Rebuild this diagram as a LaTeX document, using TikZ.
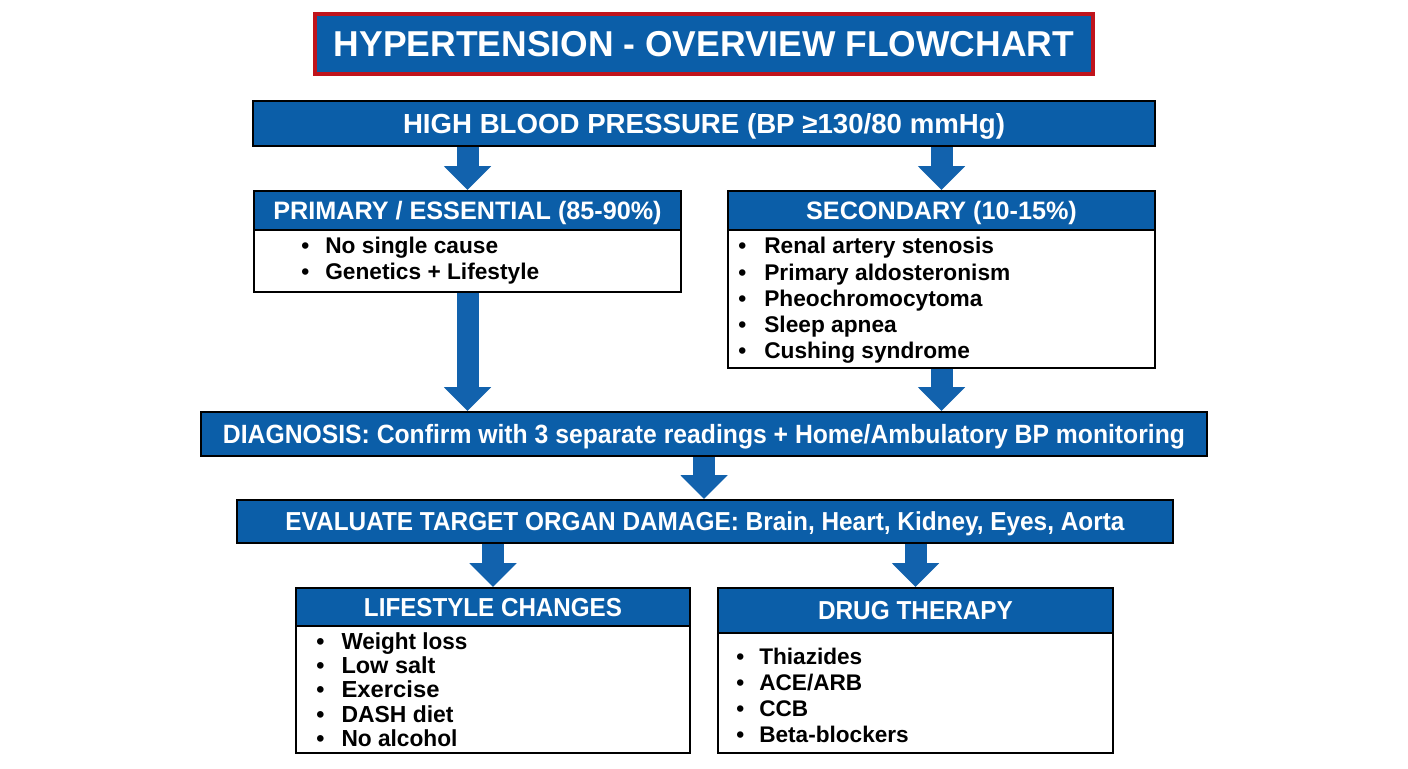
\documentclass[tikz,border=0pt]{standalone}
\usepackage{fontspec}
\setmainfont{Liberation Sans}
\usetikzlibrary{arrows.meta}
\definecolor{bpblue}{HTML}{0B5EA8}
\definecolor{arrblue}{HTML}{1262AD}
\definecolor{bpred}{HTML}{C0141C}
\newcommand{\fitw}[2]{\resizebox{#1}{\height}{#2}}
\tikzset{
  hdr/.style={draw=black, line width=1pt, fill=bpblue, text=white, inner sep=0pt, align=center},
  capc/.style={text depth=0pt, text height=#1},
  bodybox/.style={draw=black, line width=1pt, fill=white, inner sep=0pt},
  listtxt/.style={anchor=west, inner sep=0pt, align=left, text=black},
  barrow/.style={draw=arrblue, line width=11pt, -{Triangle[width=23pt,length=12pt]}},
}
\begin{document}
\begin{tikzpicture}[x=0.5pt,y=-0.5pt]
\useasboundingbox (0,0) rectangle (1408,768);
\fill[white] (0,0) rectangle (1408,768);
% title
\node[draw=bpred, line width=1.6pt, fill=bpblue, text=white, inner sep=0pt, capc=12.9pt,
  minimum width=389pt, minimum height=30pt, font=\fontsize{18}{20}\selectfont\bfseries]
  (title) at (704,44) {\fitw{370pt}{HYPERTENSION - OVERVIEW FLOWCHART}};
% high blood pressure
\node[hdr, capc=9.9pt, minimum width=451pt, minimum height=22.5pt, font=\fontsize{13.8}{16}\selectfont\bfseries]
  (hbp) at (704,123.5) {\fitw{301pt}{HIGH BLOOD PRESSURE (BP ≥130/80 mmHg)}};
% primary
\node[hdr, capc=9pt, minimum width=213.5pt, minimum height=19.5pt, font=\fontsize{12.6}{15}\selectfont\bfseries]
  (primh) at (467.5,210.5) {PRIMARY / ESSENTIAL (85-90\%)};
\node[bodybox, minimum width=213.5pt, minimum height=31pt] (primb) at (467.5,261) {};
\node[listtxt, font=\fontsize{11.35}{13.1}\selectfont\bfseries] (priml) at (301,261)
  {•\hspace{8pt}No single cause\\ •\hspace{8pt}Genetics + Lifestyle};
% secondary
\node[hdr, capc=9pt, minimum width=213.5pt, minimum height=19.5pt, font=\fontsize{12.6}{15}\selectfont\bfseries]
  (sech) at (941.5,210.5) {SECONDARY (10-15\%)};
\node[bodybox, minimum width=213.5pt, minimum height=69pt] (secb) at (941.5,299) {};
\node[listtxt, font=\fontsize{11.35}{13.1}\selectfont\bfseries] (secl) at (738,300.5)
  {•\hspace{9pt}Renal artery stenosis\\ •\hspace{9pt}Primary aldosteronism\\ •\hspace{9pt}Pheochromocytoma\\ •\hspace{9pt}Sleep apnea\\ •\hspace{9pt}Cushing syndrome};
% diagnosis
\node[hdr, capc=9.45pt, minimum width=503pt, minimum height=22pt, font=\fontsize{13.2}{16}\selectfont\bfseries]
  (diag) at (704,434) {\fitw{481pt}{DIAGNOSIS: Confirm with 3 separate readings + Home/Ambulatory BP monitoring}};
% evaluate
\node[hdr, capc=9.3pt, minimum width=468pt, minimum height=21.5pt, font=\fontsize{13}{16}\selectfont\bfseries]
  (eval) at (705,521.5) {\fitw{419.5pt}{EVALUATE TARGET ORGAN DAMAGE: Brain, Heart, Kidney, Eyes, Aorta}};
% lifestyle
\node[hdr, capc=9.3pt, minimum width=197pt, minimum height=19pt, font=\fontsize{13}{16}\selectfont\bfseries]
  (lifeh) at (493,607) {\fitw{129pt}{LIFESTYLE CHANGES}};
\node[bodybox, minimum width=197pt, minimum height=63.5pt] (lifeb) at (493,689.5) {};
\node[listtxt, font=\fontsize{11.6}{12.1}\selectfont\bfseries] (lifel) at (316,689.5)
  {•\hspace{8.5pt}\fitw{63pt}{Weight loss}\\ •\hspace{8.5pt}\fitw{47pt}{Low salt}\\ •\hspace{8.5pt}\fitw{49pt}{Exercise}\\ •\hspace{8.5pt}\fitw{56pt}{DASH diet}\\ •\hspace{8.5pt}\fitw{58pt}{No alcohol}};
% drug
\node[hdr, capc=9.3pt, minimum width=197.5pt, minimum height=22.5pt, font=\fontsize{13}{16}\selectfont\bfseries]
  (drugh) at (915.5,610.5) {\fitw{97.5pt}{DRUG THERAPY}};
\node[bodybox, minimum width=197.5pt, minimum height=60pt] (drugb) at (915.5,693) {};
\node[listtxt, font=\fontsize{11.3}{13}\selectfont\bfseries] (drugl) at (736,695)
  {•\hspace{7.5pt}Thiazides\\ •\hspace{7.5pt}ACE/ARB\\ •\hspace{7.5pt}CCB\\ •\hspace{7.5pt}Beta-blockers};
% arrows
\draw[barrow] (hbp.south -| primh.north) -- (primh.north);
\draw[barrow] (hbp.south -| sech.north) -- (sech.north);
\draw[barrow] (primb.south) -- (diag.north -| primb.south);
\draw[barrow] (secb.south) -- (diag.north -| secb.south);
\draw[barrow] (diag.south) -- (eval.north -| diag.south);
\draw[barrow] (eval.south -| lifeh.north) -- (lifeh.north);
\draw[barrow] (eval.south -| drugh.north) -- (drugh.north);
\end{tikzpicture}
\end{document}
